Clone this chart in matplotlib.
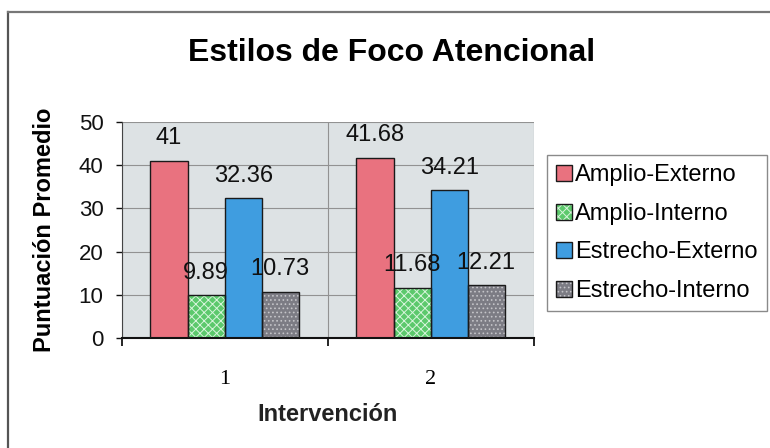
import matplotlib
matplotlib.use("Agg")
import numpy as np
import matplotlib.pyplot as plt
from matplotlib.lines import Line2D
from matplotlib.legend_handler import HandlerTuple

# ============================================================
# DATA
# ============================================================

interventions = ["1", "2"]

series_names = [
    "Amplio-Externo",
    "Amplio-Interno",
    "Estrecho-Externo",
    "Estrecho-Interno",
]

amplio_externo = [41, 41.68]
amplio_interno = [9.89, 11.68]
estrecho_externo = [32.36, 34.21]
estrecho_interno = [10.73, 12.21]

value_labels = {
    "Amplio-Externo": ["41", "41.68"],
    "Amplio-Interno": ["9.89", "11.68"],
    "Estrecho-Externo": ["32.36", "34.21"],
    "Estrecho-Interno": ["10.73", "12.21"],
}

# ============================================================
# STYLE
# ============================================================

plt.rcParams["font.family"] = ["Liberation Sans", "DejaVu Sans"]
plt.rcParams["hatch.linewidth"] = 0.7

# (face, hatch colour, hatch pattern)
STYLES = {
    "Amplio-Externo": ("#e9727f", "#e9727f", None),
    "Amplio-Interno": ("#5cc96c", "#d8f5dc", "xxxx"),
    "Estrecho-Externo": ("#3f9de0", "#3f9de0", None),
    "Estrecho-Interno": ("#7c7c84", "#c4c4c8", "...."),
}

PLOT_BG = "#dde2e4"
BAR_WIDTH = 0.18

# ============================================================
# PLOT
# ============================================================

fig = plt.figure(figsize=(7.7, 4.48), dpi=100)
ax = fig.add_axes([0.158, 0.2455, 0.535, 0.482])
ax.set_facecolor(PLOT_BG)

x = np.arange(1, len(interventions) + 1)
all_values = [amplio_externo, amplio_interno, estrecho_externo, estrecho_interno]

legend_handles = []
for i, (name, values) in enumerate(zip(series_names, all_values)):
    face, hatch_col, hatch = STYLES[name]
    pos = x + (i - 1.5) * BAR_WIDTH

    filled = ax.bar(
        pos, values, BAR_WIDTH,
        color=face, edgecolor=hatch_col, hatch=hatch,
        linewidth=0, zorder=2,
    )
    outline = ax.bar(
        pos, values, BAR_WIDTH,
        fill=False, edgecolor="#1a1a1a", linewidth=1.0, zorder=3,
    )
    legend_handles.append((filled[0], outline[0]))

    for xp, v, txt in zip(pos, values, value_labels[name]):
        ax.annotate(
            txt, (xp, v),
            xytext=(0, 12), textcoords="offset points",
            ha="center", va="baseline", fontsize=17, color="#111111",
            zorder=5,
        )

# axes limits / ticks
ax.set_xlim(0.5, len(interventions) + 0.5)
ax.set_ylim(0, 50)
ax.set_yticks(range(0, 51, 10))
ax.tick_params(axis="y", labelsize=16, length=4, width=1, pad=9, colors="#111111")

ax.set_xticks(np.arange(0.5, len(interventions) + 1, 1.0))
ax.set_xticklabels([])
ax.tick_params(axis="x", which="major", length=6, width=1.2, direction="out")
ax.set_xticks(x, minor=True)
ax.set_xticklabels(interventions, minor=True, fontfamily="Liberation Serif", fontsize=16)
ax.tick_params(axis="x", which="minor", length=0, pad=23)

ax.grid(True, axis="both", which="major", color="#929292", linewidth=0.8)
ax.set_axisbelow(True)

for side in ["top", "right"]:
    ax.spines[side].set_visible(False)
ax.spines["left"].set_color("#444444")
ax.spines["bottom"].set_color("#111111")
ax.spines["bottom"].set_linewidth(1.5)

ax.set_ylabel("Puntuación Promedio", fontsize=17, fontweight="bold")
ax.yaxis.set_label_coords(-0.16, 0.5)
ax.set_xlabel("Intervención", fontsize=17, fontweight="bold", color="#222222")
ax.xaxis.set_label_coords(0.5, -0.3)

fig.text(0.509, 0.882, "Estilos de Foco Atencional",
         ha="center", va="center", fontsize=23, fontweight="bold")

leg = fig.legend(
    legend_handles, series_names,
    handler_map={tuple: HandlerTuple(ndivide=1)},
    loc="upper left", bbox_to_anchor=(547 / 770, 1 - 155 / 448),
    bbox_transform=fig.transFigure,
    fontsize=17, frameon=True, fancybox=False, framealpha=1,
    edgecolor="#8a8a8a", borderpad=0.4, labelspacing=0.7,
    handlelength=0.65, handleheight=0.65, handletextpad=0.15,
    borderaxespad=0,
)
leg.get_frame().set_linewidth(1.0)

# chart frame
fig.add_artist(Line2D([8 / 770, 8 / 770], [0, 1 - 12 / 448],
                      transform=fig.transFigure, color="#555555", linewidth=1.6))
fig.add_artist(Line2D([8 / 770, 1], [1 - 12 / 448, 1 - 12 / 448],
                      transform=fig.transFigure, color="#777777", linewidth=1.6))

fig.savefig("out.png", dpi=100)
